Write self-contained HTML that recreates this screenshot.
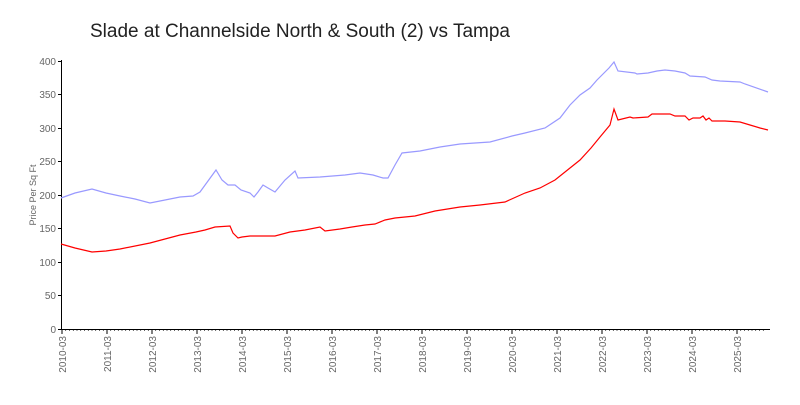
<!DOCTYPE html>
<html><head><meta charset="utf-8"><style>
body{margin:0;background:#fff;width:800px;height:400px;overflow:hidden;font-family:"Liberation Sans",sans-serif}
text{font-family:"Liberation Sans",sans-serif;fill:#666}
</style></head><body>
<svg width="800" height="400" xmlns="http://www.w3.org/2000/svg">
<text x="90" y="37" font-size="19" style="fill:#222">Slade at Channelside North &amp; South (2) vs Tampa</text>
<g stroke="#000" stroke-width="1">
<line x1="61.5" y1="60" x2="61.5" y2="330"/>
<line x1="61" y1="329.5" x2="770" y2="329.5"/>
</g>
<g font-size="10" text-anchor="end">
<text x="56" y="333">0</text><text x="56" y="299">50</text><text x="56" y="266">100</text><text x="56" y="232">150</text><text x="56" y="199">200</text><text x="56" y="165">250</text><text x="56" y="132">300</text><text x="56" y="98">350</text><text x="56" y="65">400</text>
</g>
<g stroke="#000"><line x1="58" y1="329.5" x2="61" y2="329.5"/><line x1="58" y1="295.5" x2="61" y2="295.5"/><line x1="58" y1="262.5" x2="61" y2="262.5"/><line x1="58" y1="228.5" x2="61" y2="228.5"/><line x1="58" y1="195.5" x2="61" y2="195.5"/><line x1="58" y1="161.5" x2="61" y2="161.5"/><line x1="58" y1="128.5" x2="61" y2="128.5"/><line x1="58" y1="94.5" x2="61" y2="94.5"/><line x1="58" y1="61.5" x2="61" y2="61.5"/></g>
<text transform="translate(36,195) rotate(-90)" font-size="9" text-anchor="middle">Price Per Sq Ft</text>
<g id="xt" stroke="#000"></g>
<g id="xl" font-size="10" text-anchor="end"></g>
<polyline fill="none" stroke="#9999ff" stroke-width="1.2" points="61,198 75,193 92,189 106,193 120,196 135,199 150,203 165,200 180,197 193,196 200,192 216,170 222,180 228,185 235,185 241,190 250,193 254,197 258,192 263,185 268,188 275,192 285,180 295,171 298,178 320,177 345,175 360,173 373,175 383,178 388,178 395,165 402,153 420,151 440,147 460,144 490,142 512,136 525,133 545,128 560,118 570,105 580,95 590,88 597,80 603,74 609,68 614,62 618,71 635,73 637,74 648,73 657,71 665,70 675,71 685,73 690,76 705,77 712,80 720,81 740,82 745,84 768,92"/>
<polyline fill="none" stroke="#ff0000" stroke-width="1.2" points="61,244 75,248 92,252 106,251 120,249 150,243 165,239 180,235 196,232 205,230 215,227 230,226 233,233 238,238 242,237 250,236 265,236 275,236 290,232 305,230 320,227 325,231 340,229 352,227 365,225 375,224 385,220 395,218 415,216 435,211 460,207 480,205 505,202 525,193 540,188 555,180 570,168 580,160 591,148 600,137 610,125 614,109 618,120 630,117 633,118 648,117 652,114 670,114 675,116 685,116 689,120 693,118 700,118 703,116 706,120 709,118 712,121 725,121 740,122 750,125 760,128 768,130"/>
</svg>
<script>
var t=document.getElementById('xt'),l=document.getElementById('xl'),s='';
for(var m=0;m<=187;m++){var x=62+m*3.75;if(m%12==0){s+='<line x1="'+x+'" y1="329" x2="'+x+'" y2="334"/>';}else{s+='<line x1="'+x+'" y1="329" x2="'+x+'" y2="331" stroke-width="0.6"/>';}}
t.innerHTML=s;var u='';
for(var y=0;y<16;y++){var x=62+y*45+4;u+='<text transform="translate('+x+',336) rotate(-90)">'+(2010+y)+'-03</text>';}
l.innerHTML=u;
</script>
</body></html>
